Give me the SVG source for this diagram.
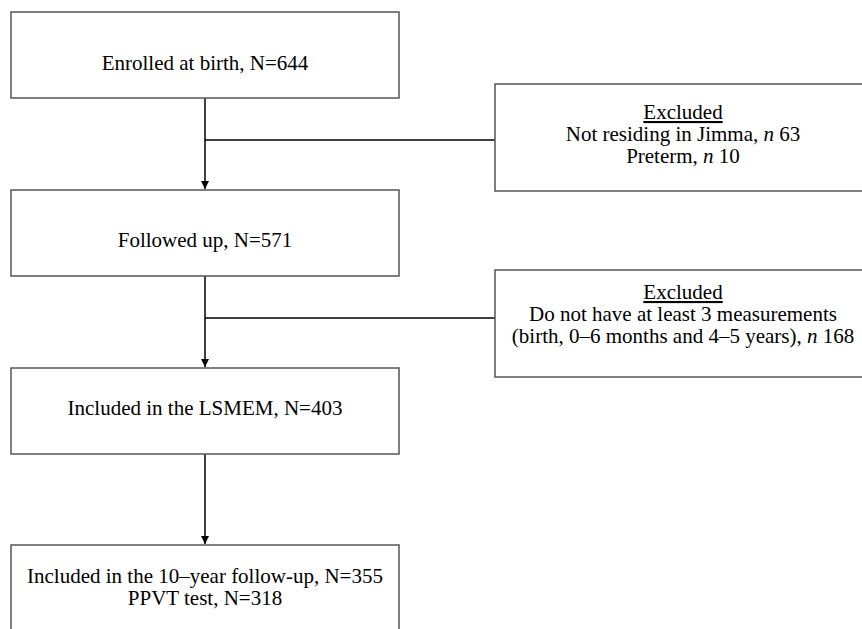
<svg xmlns="http://www.w3.org/2000/svg" width="862" height="629" viewBox="0 0 862 629">
<style>
.box{fill:#fff;stroke:#555;stroke-width:1.5}
.t{font-family:"Liberation Serif","Times New Roman",serif;font-size:21px;fill:#000;text-anchor:middle}
.u{text-decoration:underline}
.c{stroke:#000;stroke-width:1.5;fill:none}
</style>
<defs>
<marker id="ah" viewBox="0 0 10 10" refX="10" refY="5" markerWidth="8" markerHeight="8" markerUnits="userSpaceOnUse" orient="auto">
<path d="M0,0 L10,5 L0,10 z" fill="#000"/>
</marker>
</defs>
<rect width="862" height="629" fill="#fff"/>
<g id="connectors">
<line class="c" x1="205" y1="98" x2="205" y2="189" marker-end="url(#ah)"/>
<line class="c" x1="205" y1="140" x2="495" y2="140"/>
<line class="c" x1="205" y1="276" x2="205" y2="367" marker-end="url(#ah)"/>
<line class="c" x1="205" y1="318" x2="495" y2="318"/>
<line class="c" x1="205" y1="454" x2="205" y2="544" marker-end="url(#ah)"/>
</g>
<g id="enrolled">
<rect class="box" x="11" y="12" width="388" height="86"/>
<text class="t" x="205" y="70">Enrolled at birth, N=644</text>
</g>
<g id="excluded1">
<rect class="box" x="495" y="84" width="376" height="107"/>
<text class="t u" x="683" y="119">Excluded</text>
<text class="t" x="683" y="141">Not residing in Jimma, <tspan font-style="italic">n</tspan> 63</text>
<text class="t" x="683" y="163">Preterm, <tspan font-style="italic">n</tspan> 10</text>
</g>
<g id="followed">
<rect class="box" x="11" y="190" width="388" height="86"/>
<text class="t" x="205" y="247">Followed up, N=571</text>
</g>
<g id="excluded2">
<rect class="box" x="495" y="270" width="376" height="107"/>
<text class="t u" x="683" y="299">Excluded</text>
<text class="t" x="683" y="321">Do not have at least 3 measurements</text>
<text class="t" x="683" y="343">(birth, 0–6 months and 4–5 years), <tspan font-style="italic">n</tspan> 168</text>
</g>
<g id="lsmem">
<rect class="box" x="11" y="368" width="388" height="86"/>
<text class="t" x="205" y="415">Included in the LSMEM, N=403</text>
</g>
<g id="tenyear">
<rect class="box" x="11" y="545" width="388" height="100"/>
<text class="t" x="205" y="583">Included in the 10–year follow-up, N=355</text>
<text class="t" x="205" y="605">PPVT test, N=318</text>
</g>
</svg>
